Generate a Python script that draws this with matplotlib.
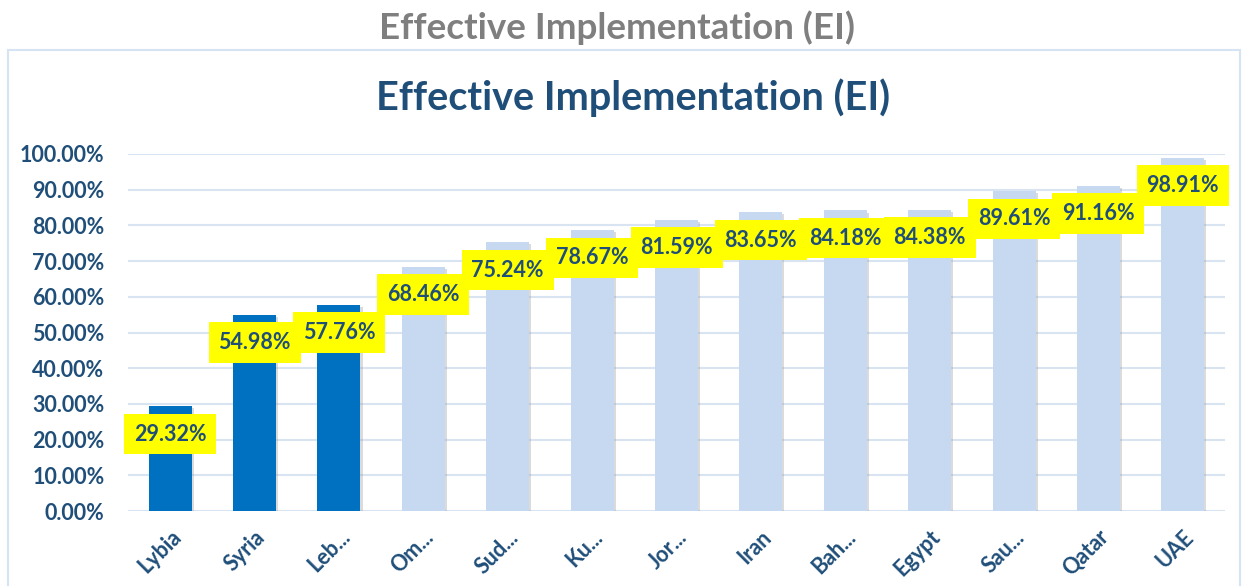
import numpy as np
import matplotlib.pyplot as plt
from matplotlib.patches import Rectangle
import matplotlib.patheffects as pe

countries = ['Lybia', 'Syria', 'Leb...', 'Om...', 'Sud...', 'Ku...', 'Jor...',
             'Iran', 'Bah...', 'Egypt', 'Sau...', 'Qatar', 'UAE']
values = [29.32, 54.98, 57.76, 68.46, 75.24, 78.67, 81.59,
          83.65, 84.18, 84.38, 89.61, 91.16, 98.91]
highlighted = [True, True, True] + [False] * 10
yticks = np.arange(0, 101, 10)

dark_blue = '#1F4E79'
plt.rcParams['font.family'] = ['Lato', 'DejaVu Sans']

fig = plt.figure(figsize=(12.46, 5.86), dpi=100)
ax = fig.add_axes([128 / 1246, 1 - 511 / 586, 1097 / 1246, 357 / 586])

# chart area frame
fig.patches.append(Rectangle((8 / 1246, -0.1), 1232 / 1246, 1.1 - 50 / 586,
                             transform=fig.transFigure, fill=False,
                             edgecolor='#D6E3F3', lw=1.5))

fig.text(0.495, 1 - 28 / 586, 'Effective Implementation (EI)', ha='center', va='center',
         fontsize=26.5, fontweight='bold', color='#7F7F7F')
fig.text(0.508, 1 - 98 / 586, 'Effective Implementation (EI)', ha='center', va='center',
         fontsize=28.5, fontweight='bold', color=dark_blue)

x = np.arange(len(countries))
colors = ['#0070C0' if h else '#C6D9F0' for h in highlighted]
bars = ax.bar(x, values, width=0.51, color=colors, zorder=3)
for b in bars:
    b.set_path_effects([pe.SimplePatchShadow(offset=(1.5, -1.5), shadow_rgbFace='#999999', alpha=0.35),
                        pe.Normal()])

for i, v in enumerate(values):
    ax.annotate(f'{v:.2f}%', (i, v), xytext=(0, -20), textcoords='offset points',
                ha='center', va='center', fontsize=15.5, fontweight='bold', color=dark_blue,
                bbox=dict(boxstyle='square,pad=0.45', fc='#FFFF00', ec='none'), zorder=5)

ax.set_xlim(-0.5, len(countries) - 0.5)
ax.set_ylim(0, 100)
ax.set_yticks(yticks)
ax.set_yticklabels([f'{t:.2f}%' for t in yticks])
ax.set_xticks(x)
ax.set_xticklabels(countries, rotation=45, ha='right', rotation_mode='anchor')
ax.tick_params(axis='y', length=0, labelsize=15.5, labelcolor=dark_blue, pad=17)
ax.tick_params(axis='x', length=0, labelsize=15.5, labelcolor=dark_blue, pad=11)
for lab in ax.get_xticklabels() + ax.get_yticklabels():
    lab.set_fontweight('bold')
ax.grid(axis='y', color='#D9E4F2', lw=1.5, zorder=0)
for s in ax.spines.values():
    s.set_visible(False)

plt.savefig('out.png', dpi=100)
